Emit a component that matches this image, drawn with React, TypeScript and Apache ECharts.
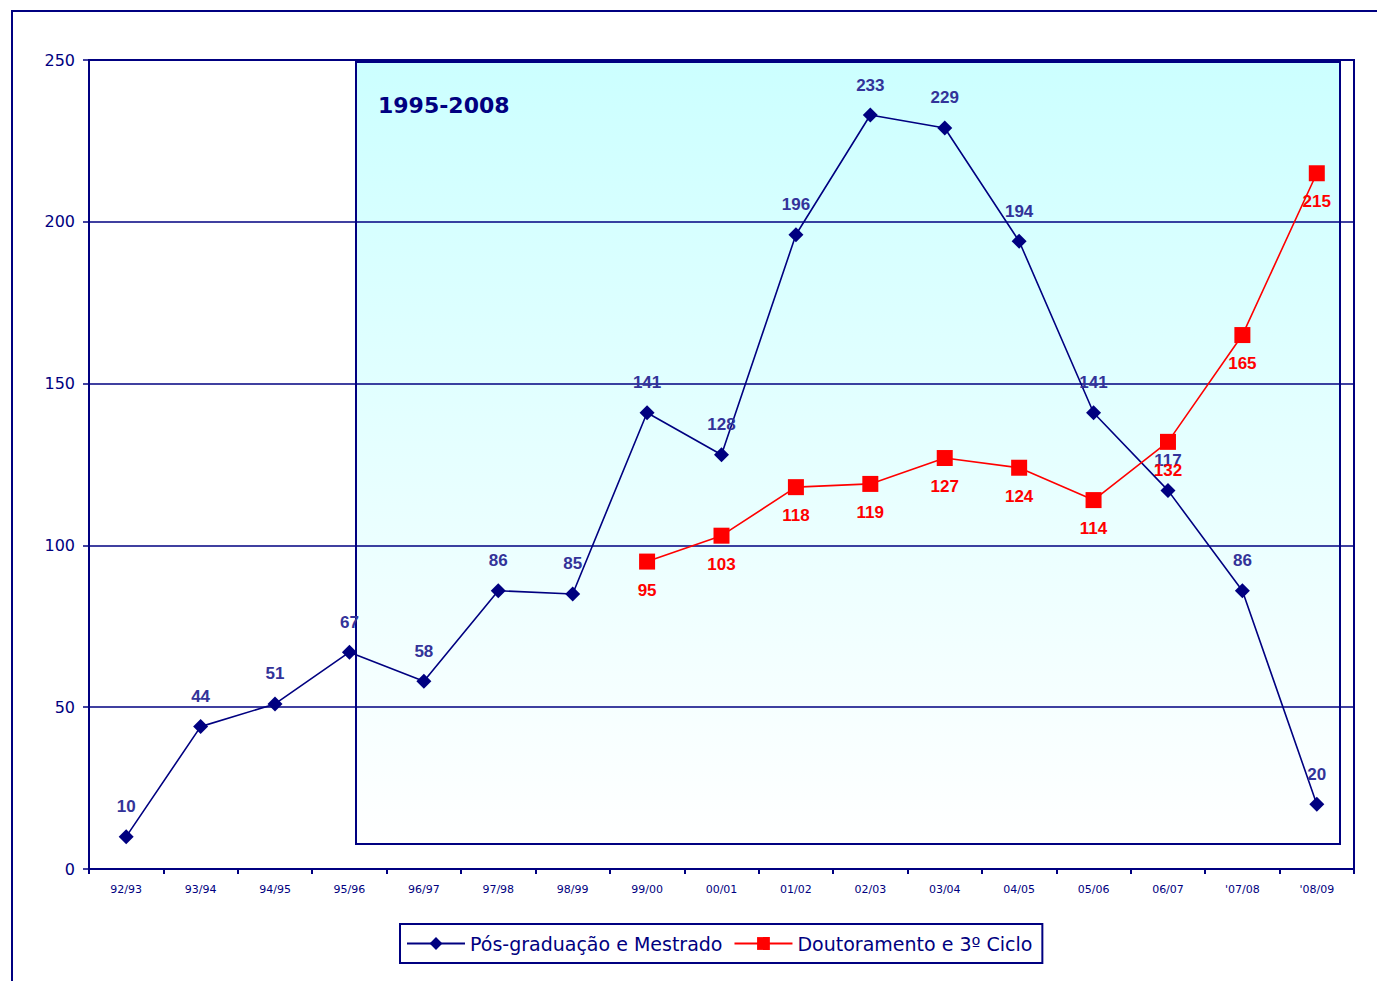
import React, { useEffect, useRef } from "react";
import * as echarts from "echarts";

const categories = ["92/93", "93/94", "94/95", "95/96", "96/97", "97/98", "98/99", "99/00", "00/01", "01/02", "02/03", "03/04", "04/05", "05/06", "06/07", "'07/08", "'08/09"];
const posGraduacao = [10, 44, 51, 67, 58, 86, 85, 141, 128, 196, 233, 229, 194, 141, 117, 86, 20];
const doutoramento = [null, null, null, null, null, null, null, 95, 103, 118, 119, 127, 124, 114, 132, 165, 215];
const yTicks = { min: 0, max: 250, interval: 50 };
const periodLabel = "1995-2008";
const seriesNames = ["Pós-graduação e Mestrado", "Doutoramento e 3º Ciclo"];

const NAVY = "#000080";

export default function App() {
  const ref = useRef<HTMLDivElement>(null);
  useEffect(() => {
    if (!ref.current) return;
    const chart = echarts.init(ref.current, null, { renderer: "svg" });
    chart.setOption({
      animation: false,
      backgroundColor: "#ffffff",
      grid: {
        left: 89,
        right: 23,
        top: 60,
        bottom: 112,
        show: true,
        borderColor: NAVY,
        borderWidth: 2,
        backgroundColor: "transparent",
      },
      graphic: [
        {
          type: "polyline",
          shape: { points: [[12, 981], [12, 11], [1377, 11]] },
          style: { stroke: NAVY, lineWidth: 2, fill: null },
          silent: true,
        },
        {
          type: "rect",
          z: -10,
          silent: true,
          shape: { x: 356, y: 62, width: 984, height: 782 },
          style: {
            fill: new echarts.graphic.LinearGradient(0, 0, 0, 1, [
              { offset: 0, color: "#CCFFFF" },
              { offset: 1, color: "#FFFFFF" },
            ]),
            stroke: NAVY,
            lineWidth: 2,
          },
        },
        {
          type: "text",
          x: 378,
          y: 105,
          silent: true,
          style: {
            text: periodLabel,
            fill: NAVY,
            font: "bold 22px 'DejaVu Sans'",
            verticalAlign: "middle",
            align: "left",
          },
        },
      ],
      legend: {
        left: 400,
        top: 924,
        width: 642,
        height: 43,
        padding: [10, 10, 10, 6],
        borderColor: NAVY,
        borderWidth: 2,
        itemWidth: 58,
        itemHeight: 16,
        itemGap: 11,
        textStyle: { color: NAVY, fontSize: 19, fontFamily: "DejaVu Sans" },
        data: seriesNames,
      },
      xAxis: {
        type: "category",
        data: categories,
        boundaryGap: true,
        axisLine: { lineStyle: { color: NAVY, width: 2 } },
        axisTick: { show: true, inside: false, length: 5, lineStyle: { color: NAVY, width: 2 } },
        axisLabel: { color: NAVY, fontSize: 11, fontFamily: "DejaVu Sans", margin: 15 },
        splitLine: { show: false },
      },
      yAxis: {
        type: "value",
        min: yTicks.min,
        max: yTicks.max,
        interval: yTicks.interval,
        axisLine: { show: true, lineStyle: { color: NAVY, width: 2 } },
        axisTick: { show: true, length: 6, lineStyle: { color: NAVY, width: 1.5 } },
        axisLabel: { color: NAVY, fontSize: 16, fontFamily: "DejaVu Sans", margin: 14 },
        splitLine: { show: true, lineStyle: { color: NAVY, width: 1.5 } },
      },
      series: [
        {
          name: seriesNames[0],
          type: "line",
          data: posGraduacao,
          symbol: "diamond",
          symbolSize: 15,
          itemStyle: { color: NAVY },
          lineStyle: { color: NAVY, width: 1.6 },
          z: 3,
          label: {
            show: true,
            position: "top",
            distance: 14,
            color: "#333399",
            fontSize: 17,
            fontWeight: "bold",
            fontFamily: "Liberation Sans",
          },
        },
        {
          name: seriesNames[1],
          type: "line",
          data: doutoramento,
          symbol: "rect",
          symbolSize: 16,
          itemStyle: { color: "#FF0000" },
          lineStyle: { color: "#FF0000", width: 1.6 },
          z: 4,
          label: {
            show: true,
            position: "bottom",
            distance: 12,
            color: "#FF0000",
            fontSize: 17,
            fontWeight: "bold",
            fontFamily: "Liberation Sans",
          },
        },
      ],
    });
    return () => chart.dispose();
  }, []);
  return <div ref={ref} style={{ position: "fixed", left: 0, top: 0, width: 1377, height: 981 }} />;
}
